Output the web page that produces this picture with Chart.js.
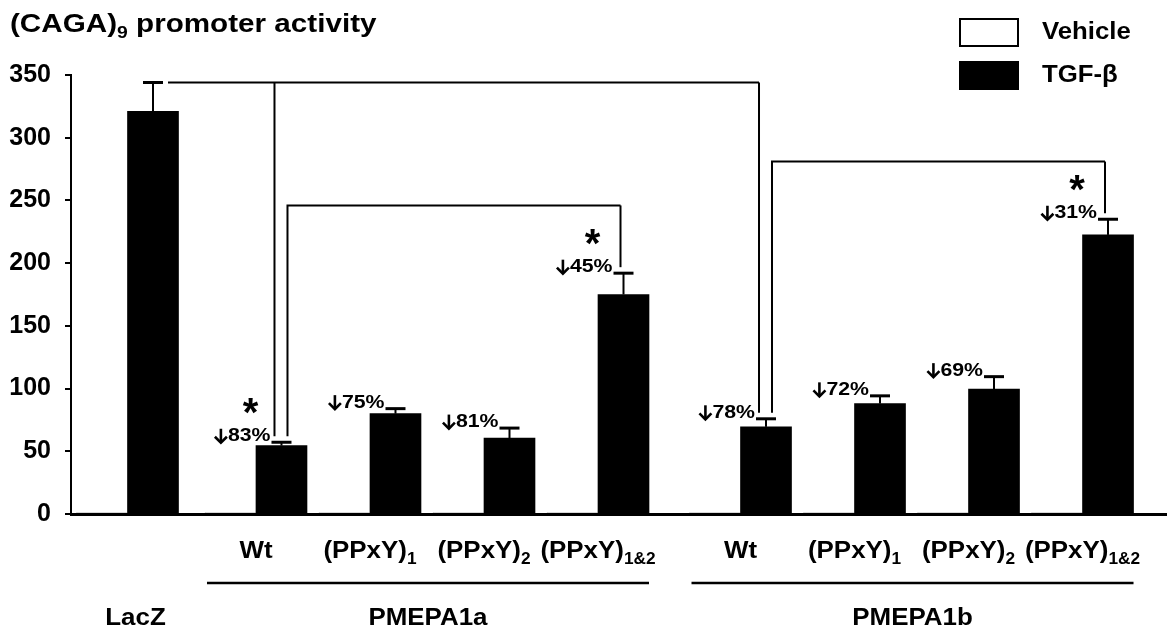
<!DOCTYPE html>
<html><head><meta charset="utf-8">
<script src="https://cdn.jsdelivr.net/npm/chart.js@4.4.1/dist/chart.umd.min.js"></script>
<style>html,body{margin:0;padding:0;background:#fff}#wrap{width:1167px;height:629px;position:relative}</style>
</head><body><div id="wrap"><canvas id="c" width="1167" height="629"></canvas></div>
<script>
// ---------- data ----------
const titleText = '(CAGA)_9 promoter activity';
const groups = ['LacZ', 'PMEPA1a', 'PMEPA1b'];
const groupOf = [0, 1, 1, 1, 1, 2, 2, 2, 2];
const categories = ['', 'Wt', '(PPxY)_1', '(PPxY)_2', '(PPxY)_1&2', 'Wt', '(PPxY)_1', '(PPxY)_2', '(PPxY)_1&2'];
const seriesNames = ['Vehicle', 'TGF-β'];
const vehicle = [1, 1, 1, 1, 1, 1, 1, 1, 1];
const tgfBeta = [321, 54.5, 80, 60.5, 175, 69.5, 88, 99.5, 222.5];
const tgfBetaErr = [23, 2.7, 4, 8, 17, 6.4, 6.2, 10, 12.5];
const reduction = ['', '83%', '75%', '81%', '45%', '78%', '72%', '69%', '31%'];
const significant = [false, true, false, false, true, false, false, false, true];
const yTicks = [0, 50, 100, 150, 200, 250, 300, 350];
// significance brackets: from category -> to categories (level in y units, or at the error cap of "from")
const comparisons = [
  { from: 0, to: [1, 5] },
  { from: 1, to: [4], level: 246 },
  { from: 5, to: [8], level: 281 }
];

// ---------- layout (not data) ----------
const GROUP_EXTRA = [0, 0.127, 0.377];   // extra spacing before each group
const positions = categories.map((_, i) => i + GROUP_EXTRA[groupOf[i]]);
const FONT = '"Liberation Sans", Arial, Helvetica, sans-serif';

function drawText(ctx, s, x, y, size, align, sx, baseline) {
  ctx.save();
  ctx.font = 'bold ' + size + 'px ' + FONT;
  ctx.textBaseline = baseline || 'alphabetic';
  ctx.textAlign = 'left';
  const w = ctx.measureText(s).width * sx;
  const x0 = align === 'center' ? x - w / 2 : align === 'right' ? x - w : x;
  ctx.translate(x0, y);
  ctx.scale(sx, 1);
  ctx.fillStyle = '#000';
  ctx.fillText(s, 0, 0);
  ctx.restore();
  return w;
}
function measure(ctx, s, size, sx) {
  ctx.save(); ctx.font = 'bold ' + size + 'px ' + FONT;
  const w = ctx.measureText(s).width * sx; ctx.restore(); return w;
}
// text with subscript: "main_sub rest"
function drawSub(ctx, s, x, y, size, subSize, subDrop, align, sx) {
  const m = s.match(/^([^_]*)_(\S+)(.*)$/);
  const parts = m ? [m[1], m[2], m[3]] : [s, '', ''];
  const w0 = measure(ctx, parts[0], size, sx);
  const w1 = parts[1] ? measure(ctx, parts[1], subSize, sx) : 0;
  const w2 = parts[2] ? measure(ctx, parts[2], size, sx) : 0;
  const total = w0 + w1 + w2;
  let x0 = align === 'center' ? x - total / 2 : align === 'right' ? x - total : x;
  drawText(ctx, parts[0], x0, y, size, 'left', sx);
  if (parts[1]) drawText(ctx, parts[1], x0 + w0, y + subDrop, subSize, 'left', sx);
  if (parts[2]) drawText(ctx, parts[2], x0 + w0 + w1, y, size, 'left', sx);
}
function downArrow(ctx, cx, cy) {
  ctx.save();
  ctx.strokeStyle = '#000'; ctx.lineWidth = 2.6; ctx.lineCap = 'butt'; ctx.lineJoin = 'miter';
  ctx.beginPath(); ctx.moveTo(cx, cy - 7.5); ctx.lineTo(cx, cy + 6); ctx.stroke();
  ctx.beginPath(); ctx.moveTo(cx - 6, cy + 0.5); ctx.lineTo(cx, cy + 6.5); ctx.lineTo(cx + 6, cy + 0.5); ctx.stroke();
  ctx.restore();
}

const annotations = {
  id: 'annotations',
  afterDatasetsDraw(chart) {
    const ctx = chart.ctx;
    const ys = chart.scales.y;
    const bars = chart.getDatasetMeta(1).data;
    const capY = i => ys.getPixelForValue(tgfBeta[i] + tgfBetaErr[i]);
    ctx.save();
    ctx.strokeStyle = '#000';
    ctx.lineCap = 'butt';
    // error bars
    bars.forEach((b, i) => {
      const top = capY(i);
      ctx.lineWidth = 2;
      ctx.beginPath(); ctx.moveTo(b.x, b.y); ctx.lineTo(b.x, top); ctx.stroke();
      ctx.lineWidth = 3;
      ctx.beginPath(); ctx.moveTo(b.x - 10, top); ctx.lineTo(b.x + 10, top); ctx.stroke();
    });
    // brackets
    ctx.lineWidth = 2;
    comparisons.forEach(c => {
      const fromBar = bars[c.from];
      const path = [];
      let yLevel;
      if (c.level === undefined) {
        yLevel = capY(c.from);
        path.push([fromBar.x + 15, yLevel]);
      } else {
        yLevel = ys.getPixelForValue(c.level);
        path.push([fromBar.x + 6, capY(c.from) - 6]);
        path.push([fromBar.x + 6, yLevel]);
      }
      const dx = c.level === undefined ? -7 : -3;
      const lastX = bars[c.to[c.to.length - 1]].x + dx;
      ctx.beginPath();
      ctx.moveTo(path[0][0], path[0][1]);
      for (let k = 1; k < path.length; k++) ctx.lineTo(path[k][0], path[k][1]);
      ctx.lineTo(lastX, yLevel);
      ctx.stroke();
      c.to.forEach(t => {
        const tx = bars[t].x + dx;
        ctx.beginPath(); ctx.moveTo(tx, yLevel); ctx.lineTo(tx, capY(t) - 6); ctx.stroke();
      });
    });
    // reduction labels & stars
    bars.forEach((b, i) => {
      if (!reduction[i]) return;
      const ly = capY(i) - 6;
      const wNum = drawText(ctx, reduction[i], b.x - 11, ly, 19, 'right', 1.12, 'middle');
      downArrow(ctx, b.x - 11 - wNum - 7, ly);
      if (significant[i]) drawText(ctx, '*', b.x - 31, ly - 10, 40, 'center', 1, 'alphabetic');
    });
    ctx.restore();
  },
  afterDraw(chart) {
    const ctx = chart.ctx;
    const xs = chart.scales.x;
    // title
    drawSub(ctx, titleText, 10, 32, 26, 17, 6, 'left', 1.14);
    // legend
    ctx.save();
    ctx.lineWidth = 2; ctx.strokeStyle = '#000';
    ctx.fillStyle = '#fff'; ctx.fillRect(960, 19, 58, 27); ctx.strokeRect(960, 19, 58, 27);
    ctx.fillStyle = '#000'; ctx.fillRect(959, 61, 60, 29);
    ctx.restore();
    drawText(ctx, seriesNames[0], 1042, 33, 23, 'left', 1.12, 'middle');
    drawText(ctx, seriesNames[1], 1042, 76, 23, 'left', 1.12, 'middle');
    // category labels
    categories.forEach((c, i) => {
      if (!c) return;
      const px = xs.getPixelForValue(positions[i]);
      drawSub(ctx, c, px, 558, 24, 16, 6, 'center', 1.08);
    });
    // group labels & lines
    groups.forEach((g, gi) => {
      const idx = groupOf.map((v, i) => v === gi ? i : -1).filter(i => i >= 0);
      const a = xs.getPixelForValue(positions[idx[0]]);
      const b = xs.getPixelForValue(positions[idx[idx.length - 1]]);
      if (idx.length > 1) {
        ctx.save(); ctx.strokeStyle = '#000'; ctx.lineWidth = 2.5;
        ctx.beginPath(); ctx.moveTo(a - 49, 583); ctx.lineTo(b + 51, 583); ctx.stroke(); ctx.restore();
        drawText(ctx, g, (a + b) / 2 + 1, 625, 24, 'center', 1.08);
      } else {
        drawText(ctx, g, a + 8, 625, 24, 'center', 1.08);
      }
    });
  }
};

const xMin = -0.4956, xMax = 9.118;
new Chart(document.getElementById('c').getContext('2d'), {
  type: 'bar',
  data: {
    datasets: [
      { label: seriesNames[0], data: vehicle.map((v, i) => ({ x: positions[i], y: v })),
        backgroundColor: '#fff', borderColor: '#333', borderWidth: 1 },
      { label: seriesNames[1], data: tgfBeta.map((v, i) => ({ x: positions[i], y: v })),
        backgroundColor: '#000', borderWidth: 0 }
    ]
  },
  options: {
    responsive: false,
    animation: false,
    layout: { padding: { top: 75, bottom: 115, left: 0, right: 0 } },
    datasets: { bar: { barThickness: 51, grouped: true } },
    plugins: { legend: { display: false }, tooltip: { enabled: false }, title: { display: false } },
    scales: {
      x: {
        type: 'linear', min: xMin, max: xMax, offset: false,
        ticks: { display: false },
        grid: { display: false, drawTicks: false, offset: false },
        border: { display: true, color: '#000', width: 3 },
        afterFit(s) { s.height = 0; }
      },
      y: {
        min: 0, max: 350,
        afterBuildTicks(s) { s.ticks = yTicks.map(v => ({ value: v })); },
        ticks: { color: '#000', padding: 14, font: { family: FONT, size: 25, weight: 'bold' } },
        grid: { drawOnChartArea: false, drawTicks: true, tickLength: 6, color: '#000', lineWidth: 2 },
        border: { display: true, color: '#000', width: 2 },
        afterFit(s) { s.width = 71; }
      }
    }
  },
  plugins: [annotations]
});
</script>
</body></html>
